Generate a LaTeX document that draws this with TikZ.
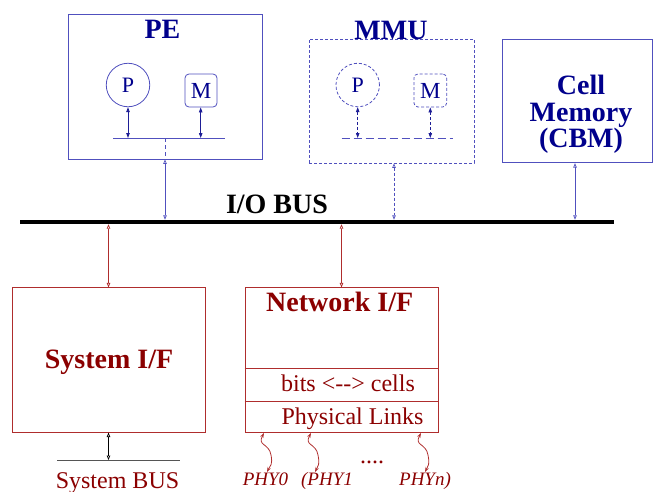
\documentclass[tikz,border=0pt]{standalone}
\usepackage{fontspec}
\setmainfont{Liberation Serif}
\usetikzlibrary{arrows.meta}
\definecolor{lblue}{RGB}{80,80,190}
\definecolor{dblue}{RGB}{30,30,150}
\definecolor{tblue}{RGB}{0,0,140}
\definecolor{lred}{RGB}{175,45,45}
\definecolor{tred}{RGB}{139,0,0}
\definecolor{sgray}{RGB}{85,85,85}
\newcommand\bigbf{\fontsize{28}{26.5}\selectfont\bfseries}
\newcommand\midrm{\fontsize{24}{26}\selectfont}
\newcommand\smit{\fontsize{19}{22}\selectfont\itshape}
\begin{document}
\begin{tikzpicture}[x=1pt,y=-1pt,
  box/.style={draw, line width=0.8pt, inner sep=0pt},
  openarr/.style={line width=0.7pt,{Triangle[open,length=4.5pt,width=3.5pt]}-{Triangle[open,length=4.5pt,width=3.5pt]}},
  filarr/.style={line width=0.8pt,{Triangle[length=5pt,width=3.5pt]}-{Triangle[length=5pt,width=3.5pt]}},
  wavy/.style={line width=0.8pt, lred,{Stealth[length=5pt,width=3.5pt]}-{Stealth[length=5pt,width=3.5pt]}},
  smdash/.style={dash pattern=on 3pt off 2pt},
  lgdash/.style={dash pattern=on 8pt off 4pt},
  lbl/.style={inner sep=0pt, anchor=base}
]
\useasboundingbox (0,0) rectangle (654,491);

% I/O bus
\node[fill=black, minimum width=594pt, minimum height=4pt, inner sep=0pt] (bus) at (317,222) {};
\node[lbl] (buslbl) at (277,213) {\bigbf I/O BUS};

% PE
\node[box, lblue, minimum width=194pt, minimum height=145pt] (pe) at (165,86.5) {};
\node[lbl, tblue] (pelbl) at (162.5,38) {\bigbf PE};
\node[circle, draw=lblue, line width=0.8pt, minimum size=43.5pt, inner sep=0pt, text=tblue] (pp) at (128,85) {\fontsize{22}{24}\selectfont P};
\node[draw=lblue, line width=0.8pt, rounded corners=4pt, minimum width=32pt, minimum height=33pt, inner sep=0pt, text=tblue] (pm) at (201,90.5) {\fontsize{23}{24}\selectfont M};
\coordinate (peL) at (113,138);
\coordinate (peR) at (225,138);
\draw[lblue, line width=0.8pt] (peL) -- (peR);
\draw[filarr, dblue] (pp.south) -- (pp.south |- peL);
\draw[filarr, dblue] ([xshift=-0.3pt]pm.south) -- ([xshift=-0.3pt]pm.south |- peL);
\draw[lblue, line width=0.8pt, dash pattern=on 4pt off 3pt] (pe.south |- peL) -- (pe.south);
\draw[openarr, lblue] (pe.south) -- (pe.south |- bus.north);

% MMU
\node[box, lblue, smdash, minimum width=165pt, minimum height=124pt] (mmu) at (391.5,101) {};
\node[lbl, tblue] (mmulbl) at (391,39) {\bigbf MMU};
\node[circle, draw=lblue, smdash, line width=0.8pt, minimum size=43.5pt, inner sep=0pt, text=tblue] (mp) at (357.7,85) {\fontsize{22}{24}\selectfont P};
\node[draw=lblue, smdash, line width=0.8pt, rounded corners=4pt, minimum width=32.7pt, minimum height=33pt, inner sep=0pt, text=tblue] (mm) at (430.3,90.5) {\fontsize{23}{24}\selectfont M};
\coordinate (mmL) at (341.7,138);
\coordinate (mmR) at (453,138);
\draw[lblue, line width=0.8pt, lgdash] (mmL) -- (mmR);
\draw[filarr, dblue, smdash] (mp.south) -- (mp.south |- mmL);
\draw[filarr, dblue, smdash] (mm.south) -- (mm.south |- mmL);
\draw[openarr, lblue, smdash] ([xshift=2.5pt]mmu.south) -- ([xshift=2.5pt]mmu.south |- bus.north);

% Cell Memory
\node[box, lblue, minimum width=149.3pt, minimum height=123.4pt] (cbm) at (577.3,101) {};
\node[inner sep=0pt, align=center, text=tblue, font=\bigbf] (cbmlbl) at (581,114.3) {Cell\\Memory\\(CBM)};
\draw[openarr, lblue] ([xshift=-2.3pt]cbm.south) -- ([xshift=-2.3pt]cbm.south |- bus.north);

% System I/F
\node[box, lred, minimum width=193pt, minimum height=144.3pt] (sif) at (108.5,360) {};
\node[lbl, tred] (siflbl) at (109,368) {\bigbf System I/F};
\draw[openarr, lred] (bus.south -| sif.north) -- (sif.north);
\coordinate (sbL) at (57,460);
\coordinate (sbR) at (180,460);
\draw[sgray, line width=0.8pt] (sbL) -- (sbR);
\draw[openarr, black] (sif.south) -- (sif.south |- sbL);
\node[lbl, tred] (sblbl) at (117.5,488) {\midrm System BUS};

% Network I/F
\node[box, lred, minimum width=193pt, minimum height=144.3pt] (nif) at (341.5,360) {};
\draw[lred, line width=0.8pt] ([yshift=63.7pt]nif.south west) -- ([yshift=63.7pt]nif.south east);
\draw[lred, line width=0.8pt] ([yshift=31.3pt]nif.south west) -- ([yshift=31.3pt]nif.south east);
\node[lbl, tred] (niflbl) at (339.7,311.7) {\bigbf Network I/F};
\node[lbl, tred] (bclbl) at (348,391) {\midrm bits <{-}{-}> cells};
\node[lbl, tred] (pllbl) at (352.5,424) {\midrm Physical Links};
\draw[openarr, lred] (bus.south -| nif.north) -- (nif.north);

% physical links
\coordinate (w1s) at (264,433);
\coordinate (w1m) at (271,455);
\coordinate (w1e) at (267,472);
\coordinate (w2s) at (311,433);
\coordinate (w2m) at (318,455);
\coordinate (w2e) at (315,472);
\coordinate (w3s) at (421,433);
\coordinate (w3m) at (428,455);
\coordinate (w3e) at (425,472);
\draw[wavy] (w1s) .. controls (257,446) and (269,443) .. (w1m) .. controls (273,465) and (270,466) .. (w1e);
\draw[wavy] (w2s) .. controls (304,446) and (316,443) .. (w2m) .. controls (320,465) and (318,466) .. (w2e);
\draw[wavy] (w3s) .. controls (414,446) and (426,443) .. (w3m) .. controls (430,465) and (428,466) .. (w3e);
\node[lbl, tred] (phy0) at (265.5,485.3) {\smit PHY0};
\node[lbl, tred] (phy1) at (327,485.3) {\smit (PHY1};
\node[lbl, tred] (phyn) at (425,485.3) {\smit PHYn)};
\node[lbl, tred] (dots) at (372,463) {\midrm ....};
\end{tikzpicture}
\end{document}
